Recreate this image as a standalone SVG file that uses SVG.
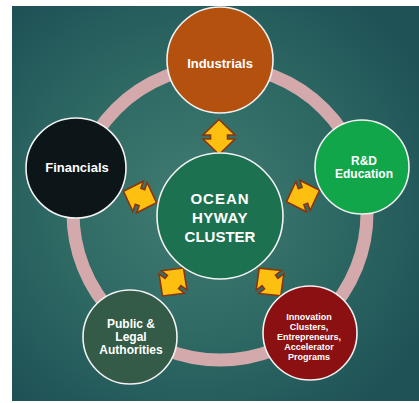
<svg xmlns="http://www.w3.org/2000/svg" width="419" height="403" viewBox="0 0 419 403">
  <defs>
    <radialGradient id="bg" cx="45%" cy="50%" r="65%">
      <stop offset="0" stop-color="#417d72"/>
      <stop offset="0.55" stop-color="#2d6863"/>
      <stop offset="1" stop-color="#1f5257"/>
    </radialGradient>
    <!-- double-headed arrow, axis vertical, centred on the origin -->
    <path id="dblArrow" d="M0,-17.5 L16,-2 L8.5,-2 L8.5,2 L16,2 L0,17.5 L-16,2 L-8.5,2 L-8.5,-2 L-16,-2 Z"/>
  </defs>
  <style>
    .node { stroke: #f2f2f2; stroke-width: 1.6; }
    .label { font-family: "Liberation Sans", Arial, sans-serif; font-weight: bold; fill: #ffffff; text-anchor: middle; }
    .arrow { fill: #fdc010; stroke: #8a3510; stroke-width: 1.6; stroke-linejoin: miter; }
  </style>

  <!-- backdrop -->
  <rect x="0" y="0" width="419" height="403" fill="#ffffff"/>
  <rect x="12" y="6" width="407" height="395" fill="url(#bg)"/>

  <!-- outer ring linking the partner nodes -->
  <circle cx="220" cy="213" r="147" fill="none" stroke="#d3a9ab" stroke-width="13"/>

  <!-- two-way connectors between the hub and each partner -->
  <g id="connectors">
    <use href="#dblArrow" class="arrow" transform="translate(219,137)"/>
    <use href="#dblArrow" class="arrow" transform="translate(303,196) rotate(71)"/>
    <use href="#dblArrow" class="arrow" transform="translate(270,282) rotate(142)"/>
    <use href="#dblArrow" class="arrow" transform="translate(173,282) rotate(-143)"/>
    <use href="#dblArrow" class="arrow" transform="translate(140,197) rotate(-71)"/>
  </g>

  <g id="hub">
    <circle class="node" cx="220" cy="216" r="63" fill="#1c7150"/>
    <text class="label" x="220" y="204" font-size="15" letter-spacing="1">OCEAN</text>
    <text class="label" x="220" y="223" font-size="15" letter-spacing="0.5">HYWAY</text>
    <text class="label" x="220" y="242" font-size="15">CLUSTER</text>
  </g>

  <g id="industrials">
    <circle class="node" cx="220" cy="60" r="53" fill="#b5510f"/>
    <text class="label" x="220" y="68" font-size="13">Industrials</text>
  </g>

  <g id="rd-education">
    <circle class="node" cx="362" cy="167" r="47" fill="#12a64b"/>
    <text class="label" x="364" y="165" font-size="12">R&amp;D</text>
    <text class="label" x="364" y="178" font-size="12">Education</text>
  </g>

  <g id="innovation">
    <circle class="node" cx="310" cy="333" r="47" fill="#8b1012"/>
    <text class="label" x="309" y="320" font-size="9">Innovation</text>
    <text class="label" x="309" y="330" font-size="9">Clusters,</text>
    <text class="label" x="309" y="340" font-size="9">Entrepreneurs,</text>
    <text class="label" x="309" y="350" font-size="9">Accelerator</text>
    <text class="label" x="309" y="360" font-size="9">Programs</text>
  </g>

  <g id="public-legal">
    <circle class="node" cx="130" cy="337" r="47" fill="#345b47"/>
    <text class="label" x="131" y="328" font-size="12">Public &amp;</text>
    <text class="label" x="131" y="341" font-size="12">Legal</text>
    <text class="label" x="131" y="354" font-size="12">Authorities</text>
  </g>

  <g id="financials">
    <circle class="node" cx="76" cy="168" r="50" fill="#0c1618"/>
    <text class="label" x="77" y="172" font-size="13">Financials</text>
  </g>
</svg>
